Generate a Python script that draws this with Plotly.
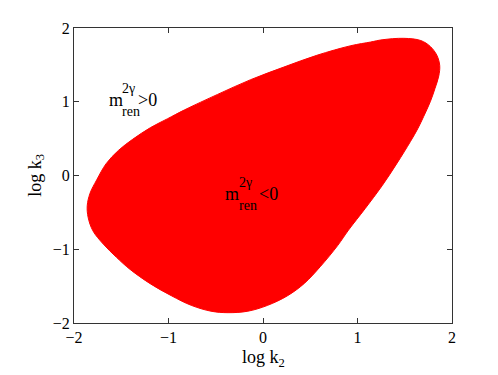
import plotly.graph_objects as go

# contorno da regiao m_ren^2gamma < 0
log_k2 = [-1.86, -1.83, -1.76, -1.66, -1.53, -1.38, -1.19, -1.01, -0.83, -0.48, -0.13, 0.22, 0.57, 0.93, 1.14, 1.26,
          1.49, 1.67, 1.77, 1.84, 1.87, 1.86, 1.82, 1.77, 1.70, 1.64, 1.56, 1.42, 1.26, 1.08, 0.905, 0.79, 0.61,
          0.44, 0.26, 0.05, -0.16, -0.37, -0.55, -0.76, -0.97, -1.19, -1.41, -1.55, -1.69, -1.80, -1.85, -1.86]
log_k3 = [-0.41, -0.24, -0.06, 0.16, 0.34, 0.49, 0.65, 0.77, 0.89, 1.10, 1.30, 1.47, 1.63, 1.76, 1.81, 1.84,
          1.86, 1.83, 1.75, 1.63, 1.49, 1.35, 1.18, 1.00, 0.80, 0.64, 0.46, 0.17, -0.14, -0.45, -0.74, -0.95, -1.23,
          -1.46, -1.63, -1.76, -1.84, -1.86, -1.84, -1.76, -1.63, -1.47, -1.27, -1.11, -0.93, -0.75, -0.57, -0.41]
ticks = [-2, -1, 0, 1, 2]
tick_txt = ['\u22122', '\u22121', '0', '1', '2']

fonte = 'Liberation Serif, Times New Roman, serif'

fig = go.Figure()
fig.add_trace(go.Scatter(x=log_k2, y=log_k3, fill='toself', fillcolor='#ff0000', mode='lines',
                         line=dict(color='#ff0000', width=1, shape='spline', smoothing=1.0),
                         hoverinfo='skip', showlegend=False))

eixo = dict(range=[-2, 2], tickvals=ticks, ticktext=tick_txt, ticks='inside', ticklen=5,
            tickcolor='#333', showline=True, linecolor='#333', linewidth=1, mirror='ticks',
            showgrid=False, zeroline=False, tickfont=dict(family=fonte, size=16, color='black'))
fig.update_xaxes(**eixo)
fig.update_yaxes(**eixo)

# rotulos: m, sobrescrito 2gamma, subscrito ren, sinal
def rotulo(x0, y0, sinal, dx_sup, dx_sig):
    fig.add_annotation(x=x0, y=y0, text='m', xanchor='left', yanchor='middle', showarrow=False,
                       font=dict(family=fonte, size=18, color='black'))
    fig.add_annotation(x=x0 + dx_sup, y=y0 + 0.15, text='2\u03b3', xanchor='left', yanchor='middle', showarrow=False,
                       font=dict(family=fonte, size=14, color='black'))
    fig.add_annotation(x=x0 + dx_sup, y=y0 - 0.16, text='ren', xanchor='left', yanchor='middle', showarrow=False,
                       font=dict(family=fonte, size=14, color='black'))
    fig.add_annotation(x=x0 + dx_sig, y=y0, text=sinal, xanchor='left', yanchor='middle', showarrow=False,
                       font=dict(family=fonte, size=18, color='black'))

rotulo(-1.65, 1.03, '>0', 0.14, 0.31)
rotulo(-0.42, -0.25, '<0', 0.15, 0.36)

fig.add_annotation(x=0.5, y=-0.075, xref='paper', yref='paper', text='log k<sub>2</sub>', showarrow=False,
                   xanchor='center', yanchor='top', font=dict(family=fonte, size=18, color='black'))
fig.add_annotation(x=-0.10, y=0.5, xref='paper', yref='paper', text='log k<sub>3</sub>', showarrow=False,
                   textangle=-90, xanchor='center', yanchor='middle', font=dict(family=fonte, size=18, color='black'))

fig.update_layout(autosize=False, width=498, height=375, margin=dict(l=66, r=54, t=20, b=60),
                  plot_bgcolor='white', paper_bgcolor='white')
fig.write_html("out.html")
